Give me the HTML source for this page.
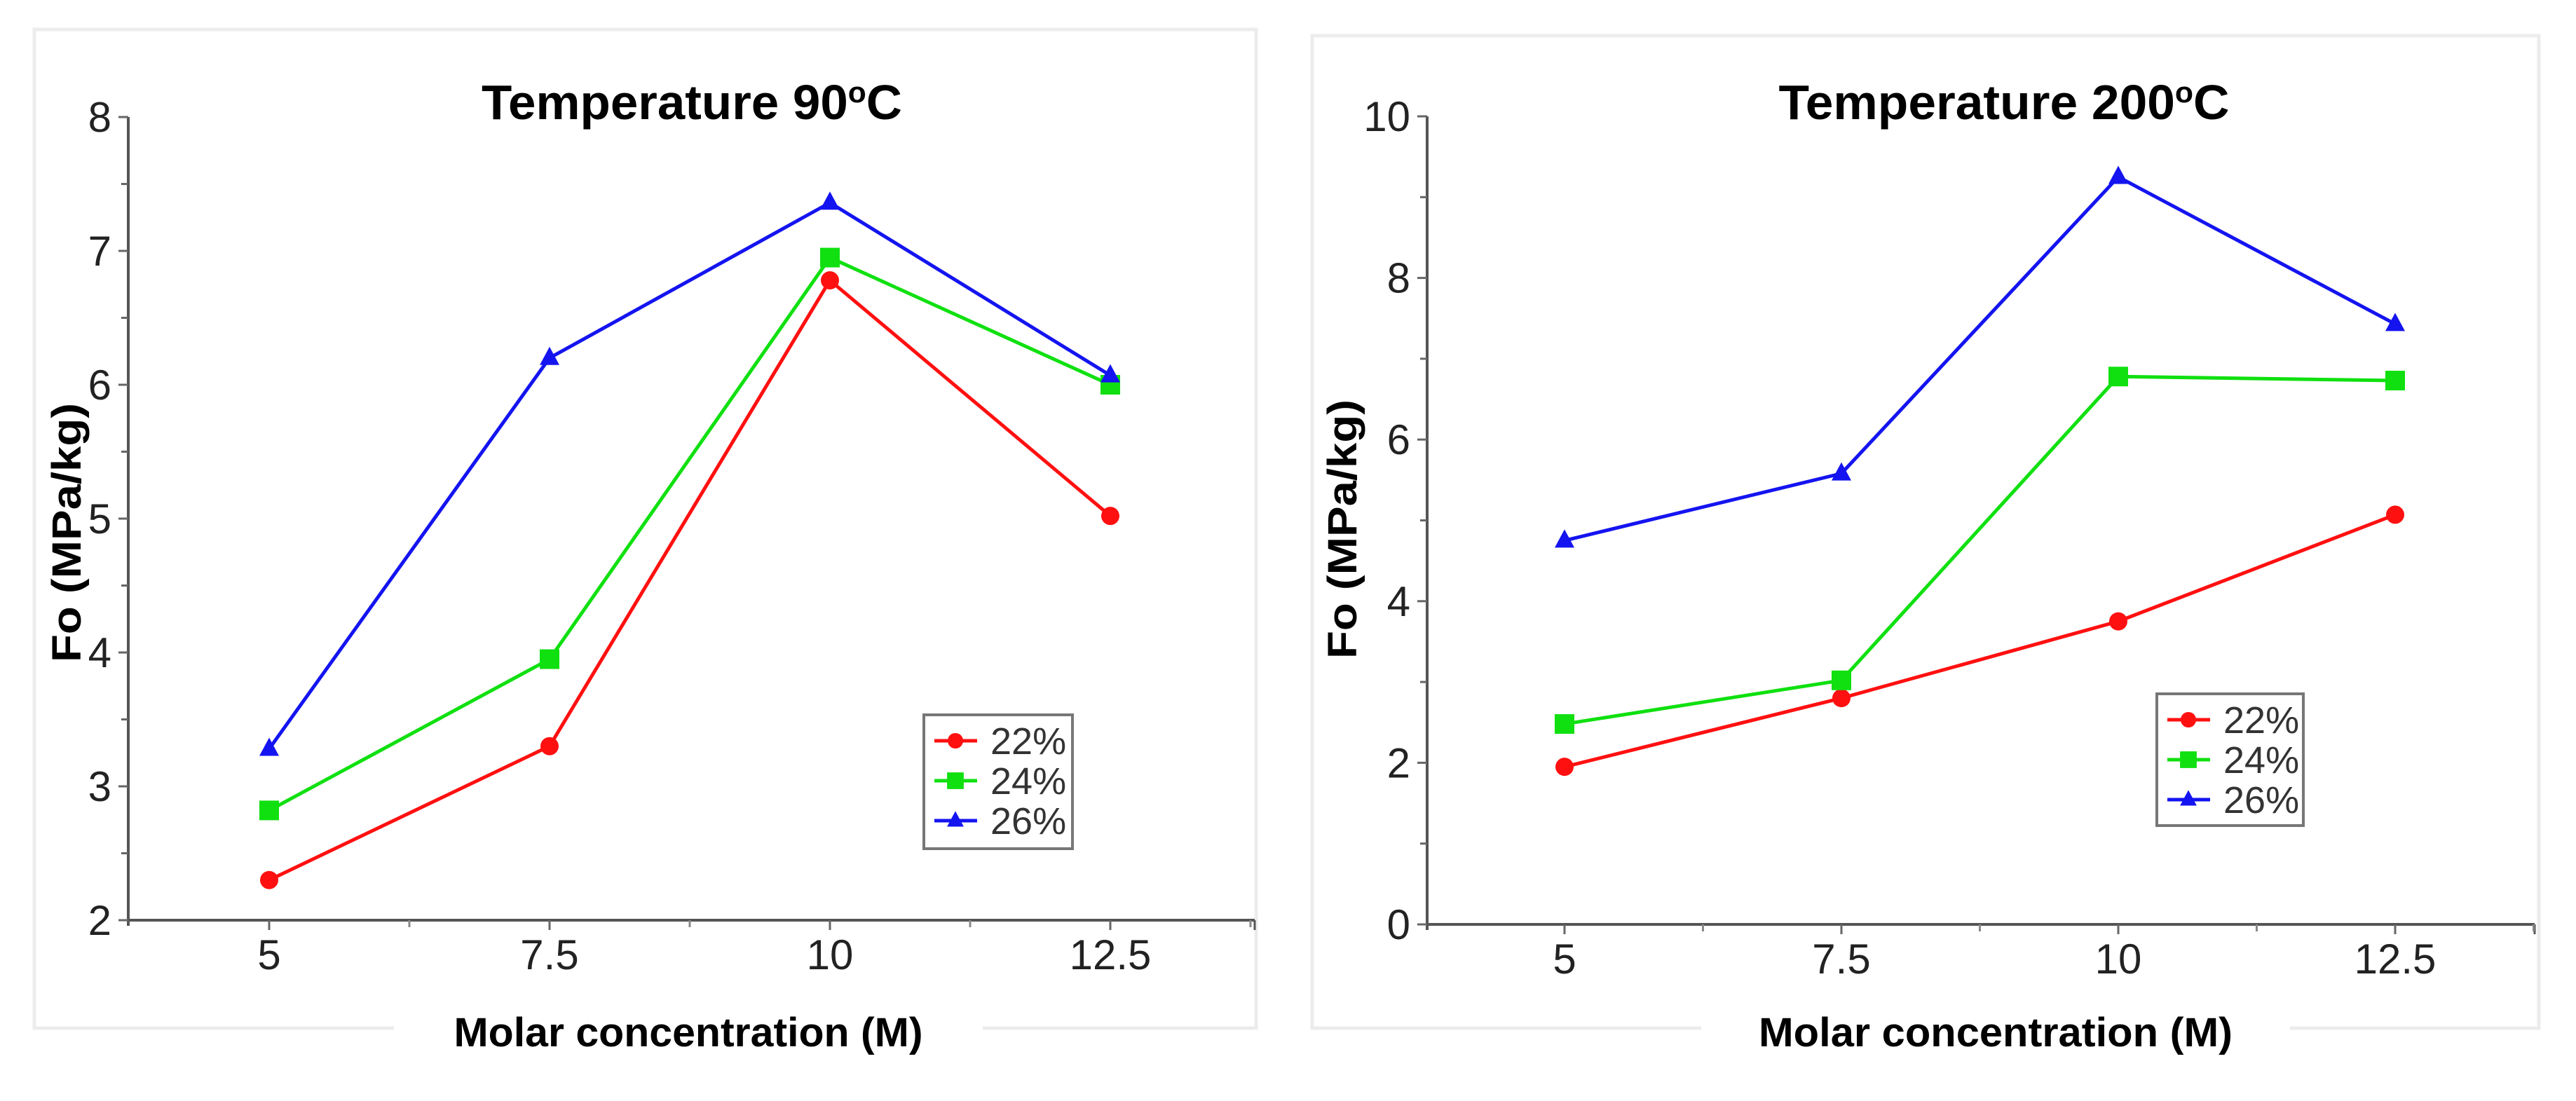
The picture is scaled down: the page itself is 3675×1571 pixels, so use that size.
<!DOCTYPE html>
<html><head><meta charset="utf-8"><style>
html,body{margin:0;padding:0;background:#fff;}
svg{display:block;font-family:"Liberation Sans",sans-serif;}
</style></head><body>
<svg id="fig" width="3675" height="1571" viewBox="0 0 3675 1571" xmlns="http://www.w3.org/2000/svg"></svg>
<script>
const categories = [5, 7.5, 10, 12.5];
const seriesNames = ["22%", "24%", "26%"];
const leftS22 = [2.3, 3.3, 6.78, 5.02];
const leftS24 = [2.82, 3.95, 6.95, 6.0];
const leftS26 = [3.28, 6.2, 7.36, 6.07];
const rightS22 = [1.95, 2.8, 3.75, 5.07];
const rightS24 = [2.48, 3.02, 6.78, 6.73];
const rightS26 = [4.75, 5.58, 9.25, 7.43];
const leftYTicks = [2, 3, 4, 5, 6, 7, 8];
const rightYTicks = [0, 2, 4, 6, 8, 10];
const xTickLabels = ["5", "7.5", "10", "12.5"];

const NS = "http://www.w3.org/2000/svg";
const svg = document.getElementById("fig");
function mk(tag, attrs, parent, text) {
  const e = document.createElementNS(NS, tag);
  for (const k in attrs) e.setAttribute(k, attrs[k]);
  if (text !== undefined) e.textContent = text;
  (parent || svg).appendChild(e);
  return e;
}
const colors = ["#ff1010", "#10e010", "#1414f0"];

function panel(cfg) {
  const g = mk("g", {});
  
  
  const fr = mk("rect", {x: cfg.box[0], y: cfg.box[1], width: cfg.box[2], height: cfg.box[3], fill: "#fff", stroke: "#ececec", "stroke-width": 5}, g);
  
  
  const xs = v => cfg.x0 + (v - 5) / 2.5 * cfg.xstep;
  const ys = v => cfg.yBase - (v - cfg.yMin) * cfg.yUnit;
  // axes
  const ya = mk("line", {x1: cfg.ax, y1: ys(cfg.yMax), x2: cfg.ax, y2: ys(cfg.yMin) + 8, stroke: "#555", "stroke-width": 4}, g);
  
  
  const xa = mk("line", {x1: cfg.ax, y1: ys(cfg.yMin), x2: cfg.axEnd, y2: ys(cfg.yMin), stroke: "#555", "stroke-width": 4}, g);
  
  
  mk("line", {x1: cfg.axEnd, y1: ys(cfg.yMin), x2: cfg.axEnd, y2: ys(cfg.yMin) + 14, stroke: "#555", "stroke-width": 3}, g);
  // y ticks
  const step = cfg.yTicks[1] - cfg.yTicks[0];
  cfg.yTicks.forEach((t, i) => {
    mk("line", {x1: cfg.ax - 14, y1: ys(t), x2: cfg.ax, y2: ys(t), stroke: "#666", "stroke-width": 3}, g);
    if (i < cfg.yTicks.length - 1) mk("line", {x1: cfg.ax - 10, y1: ys(t + step / 2), x2: cfg.ax, y2: ys(t + step / 2), stroke: "#666", "stroke-width": 3}, g);
    const tl = mk("text", {x: cfg.ax - 24, y: ys(t) + 21, "font-size": 60, fill: "#222", "text-anchor": "end"}, g, String(t));
    
    
  });
  // x ticks
  categories.forEach((c, i) => {
    mk("line", {x1: xs(c), y1: ys(cfg.yMin), x2: xs(c), y2: ys(cfg.yMin) + 14, stroke: "#666", "stroke-width": 3}, g);
    mk("line", {x1: xs(c + 1.25), y1: ys(cfg.yMin), x2: xs(c + 1.25), y2: ys(cfg.yMin) + 10, stroke: "#888", "stroke-width": 3}, g);
    const tl = mk("text", {x: xs(c), y: ys(cfg.yMin) + 70, "font-size": 60, fill: "#222", "text-anchor": "middle"}, g, xTickLabels[i]);
    
    
  });
  // titles
  const t = mk("text", {x: cfg.titleX, y: 170, "font-size": 70, "font-weight": "bold", "text-anchor": "middle", textLength: cfg.titleLen, lengthAdjust: "spacingAndGlyphs"}, g);
  
  
  t.appendChild(document.createTextNode(cfg.title));
  mk("tspan", {dy: -24, "font-size": 42}, t, "o");
  mk("tspan", {dy: 24}, t, "C");
  mk("rect", {x: cfg.xlabX - 420, y: 1440, width: 840, height: 80, fill: "#fff"}, g);
  const xl = mk("text", {x: cfg.xlabX, y: 1493, "font-size": 58, "font-weight": "bold", "text-anchor": "middle", textLength: cfg.xlabLen, lengthAdjust: "spacingAndGlyphs"}, g, "Molar concentration (M)");
  
  
  const yl = mk("text", {x: 0, y: 0, "font-size": 58, "font-weight": "bold", "text-anchor": "middle", textLength: 370, lengthAdjust: "spacingAndGlyphs", transform: `translate(${cfg.ylabX},${cfg.ylabY}) rotate(-90)`}, g, "Fo (MPa/kg)");
  
  
  // series
  cfg.series.forEach((vals, si) => {
    const sg = mk("g", {}, g);
    
    
    const pts = vals.map((v, i) => xs(categories[i]) + "," + ys(v)).join(" ");
    mk("polyline", {points: pts, fill: "none", stroke: colors[si], "stroke-width": 5}, sg);
    vals.forEach((v, i) => marker(sg, si, xs(categories[i]), ys(v), 1));
  });
  // legend
  const lg = mk("g", {}, g);
  
  
  const L = cfg.legend;
  mk("rect", {x: L[0], y: L[1], width: L[2], height: L[3], fill: "#fff", stroke: "#777", "stroke-width": 4}, lg);
  seriesNames.forEach((n, si) => {
    const yy = L[1] + 37 + si * 57;
    const e = mk("g", {}, lg);
    
    
    mk("line", {x1: L[0] + 15, y1: yy, x2: L[0] + 76, y2: yy, stroke: colors[si], "stroke-width": 5}, e);
    marker(e, si, L[0] + 45, yy, 0.85);
    mk("text", {x: L[0] + 95, y: yy + 19, "font-size": 54, fill: "#333"}, e, n);
  });
}
function marker(parent, si, x, y, s) {
  let m;
  if (si === 0) m = mk("circle", {cx: x, cy: y, r: 13 * s, fill: colors[0]}, parent);
  else if (si === 1) m = mk("rect", {x: x - 14 * s, y: y - 14 * s, width: 28 * s, height: 28 * s, fill: colors[1]}, parent);
  else m = mk("polygon", {points: `${x},${y - 16 * s} ${x + 14 * s},${y + 10 * s} ${x - 14 * s},${y + 10 * s}`, fill: colors[2]}, parent);
  
  
}
panel({name: "chart-90c", box: [49, 42, 1743, 1425], ax: 183, axEnd: 1790, x0: 384, xstep: 400,
  yMin: 2, yMax: 8, yBase: 1313, yUnit: 191, yTicks: leftYTicks,
  title: "Temperature 90", titleX: 987, titleLen: 600, xlabX: 982, xlabLen: 669, ylabX: 115, ylabY: 760,
  series: [leftS22, leftS24, leftS26], legend: [1318, 1020, 212, 191]});
panel({name: "chart-200c", box: [1872, 51, 1750, 1416], ax: 2036, axEnd: 3616, x0: 2232, xstep: 395,
  yMin: 0, yMax: 10, yBase: 1319, yUnit: 115.3, yTicks: rightYTicks,
  title: "Temperature 200", titleX: 2859, titleLen: 643, xlabX: 2847, xlabLen: 676, ylabX: 1935, ylabY: 755,
  series: [rightS22, rightS24, rightS26], legend: [3077, 990, 209, 188]});
</script>
</body></html>
